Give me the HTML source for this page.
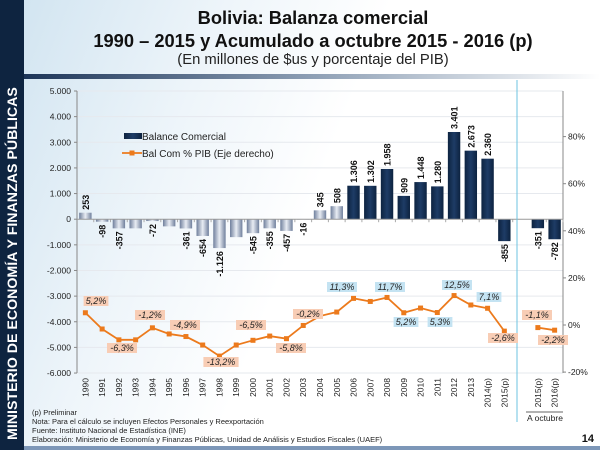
<!DOCTYPE html>
<html><head><meta charset="utf-8"><style>
html,body{margin:0;padding:0;background:#fff}
svg{display:block;font-family:"Liberation Sans",Arial,sans-serif}
</style></head><body>
<svg id="s" width="600" height="450" viewBox="0 0 600 450" xmlns="http://www.w3.org/2000/svg">
<defs>
<linearGradient id="bgl" x1="0" y1="0" x2="1" y2="0.3">
<stop offset="0" stop-color="#cfe3f0"/><stop offset="0.35" stop-color="#eef5fa"/><stop offset="0.6" stop-color="#ffffff"/></linearGradient>
<linearGradient id="sep" x1="0" y1="0" x2="1" y2="0">
<stop offset="0" stop-color="#1d3558"/><stop offset="0.5" stop-color="#8d9fb5"/><stop offset="1" stop-color="#ffffff"/></linearGradient>
<linearGradient id="lb" x1="0" y1="0" x2="1" y2="0">
<stop offset="0" stop-color="#6f7f9c"/><stop offset="0.5" stop-color="#e8ecf3"/><stop offset="1" stop-color="#6f7f9c"/></linearGradient>
<linearGradient id="db" x1="0" y1="0" x2="1" y2="0">
<stop offset="0" stop-color="#0d2340"/><stop offset="0.5" stop-color="#1e3c66"/><stop offset="1" stop-color="#0d2340"/></linearGradient>
</defs>
<rect width="600" height="450" fill="url(#bgl)"/>
<rect x="0" y="0" width="24" height="450" fill="#0e2440"/>
<rect x="24" y="446" width="576" height="4" fill="#7d97b8"/>
<text transform="translate(17,440) rotate(-90)" font-size="14.2" font-weight="bold" fill="#fff">MINISTERIO DE ECONOMÍA Y FINANZAS PÚBLICAS</text>
<text x="313" y="24" font-size="18.3" font-weight="bold" text-anchor="middle" fill="#111">Bolivia: Balanza comercial</text>
<text x="313" y="47" font-size="18.3" font-weight="bold" text-anchor="middle" fill="#111">1990 – 2015 y Acumulado a octubre 2015 - 2016 (p)</text>
<text x="313" y="64" font-size="14.8" text-anchor="middle" fill="#222">(En millones de $us y porcentaje del PIB)</text>
<rect x="24" y="74" width="576" height="5" fill="url(#sep)"/>
<g id="g"></g>
<text x="32" y="415" font-size="7.5" fill="#222">(p) Preliminar</text>
<text x="32" y="424" font-size="7.5" fill="#222">Nota: Para el cálculo se incluyen Efectos Personales y Reexportación</text>
<text x="32" y="433" font-size="7.5" fill="#222">Fuente: Instituto Nacional de Estadística (INE)</text>
<text x="32" y="442" font-size="7.5" fill="#222">Elaboración: Ministerio de Economía y Finanzas Públicas, Unidad de Análisis y Estudios Fiscales (UAEF)</text>
<text x="594" y="442" font-size="11" font-weight="bold" text-anchor="end" fill="#111">14</text>
</svg>
<script>
var g=document.getElementById('g'),h='';
var X0=77,X1=563,W=(X1-X0)/29;
function yl(v){return 219.2-v*0.02564;}
function yr(p){return 325-p*2.355;}
function cx(i){return X0+W*(i+0.5);}
for(var v=-6000;v<=5000;v+=1000){var y=yl(v);
 if(v!=0)h+='<line x1="'+X0+'" x2="'+X1+'" y1="'+y+'" y2="'+y+'" stroke="#e6e9ee" stroke-width="1"/>';
 h+='<text x="71" y="'+(y+3)+'" font-size="8.5" text-anchor="end" fill="#222">'+(v<0?'-':'')+(Math.abs(v)>=1000?Math.abs(v)/1000+'.000':'0')+'</text>';
 h+='<line x1="'+(X0-3)+'" x2="'+X0+'" y1="'+y+'" y2="'+y+'" stroke="#888"/>';}
h+='<line x1="'+X0+'" x2="'+X0+'" y1="91" y2="373" stroke="#888"/>';
h+='<line x1="'+X1+'" x2="'+X1+'" y1="91" y2="373" stroke="#888"/>';
for(var p=-20;p<=80;p+=20){var y=yr(p);h+='<line x1="'+X1+'" x2="'+(X1+3)+'" y1="'+y+'" y2="'+y+'" stroke="#888"/><text x="568" y="'+(y+3)+'" font-size="8.5" fill="#222">'+p+'%</text>';}
var cats=[],bars=[253,-98,-357,-357,-72,-280,-361,-654,-1126,-700,-545,-355,-457,-16,345,508,1306,1302,1958,909,1448,1280,3401,2673,2360,-855];
var lab=[1,1,1,0,1,0,1,1,1,0,1,1,1,1,1,1,1,1,1,1,1,1,1,1,1,1];
var pct=[5.2,-1.7,-6.3,-6.3,-1.2,-3.8,-4.9,-8.5,-13.2,-8.5,-6.5,-4.7,-5.8,-0.2,3.8,5.5,11.3,10,11.7,5.2,7.2,5.3,12.5,8.5,7.1,-2.6];
for(var i=0;i<26;i++)cats.push(i<24?String(1990+i):(1990+i)+'(p)');
function fmt(v){var a=Math.abs(v),s=a>=1000?Math.floor(a/1000)+'.'+String(a%1000).padStart(3,'0'):String(a);return (v<0?'-':'')+s;}
var idx=[],vals=[],ps=[],lb=[];
for(i=0;i<26;i++){idx.push(i);vals.push(bars[i]);ps.push(pct[i]);lb.push(lab[i]);}
idx.push(27,28);vals.push(-351,-782);ps.push(-1.1,-2.2);lb.push(1,1);cats.push('2015(p)','2016(p)');
var y0=yl(0);
for(var k=0;k<idx.length;k++){var x=cx(idx[k]),v=vals[k],y=yl(v),dark=k>=16;
 h+='<rect x="'+(x-6.2)+'" y="'+Math.min(y,y0)+'" width="12.4" height="'+Math.abs(y-y0)+'" fill="url(#'+(dark?'db':'lb')+')"/>';
 if(lb[k]){ if(v>0)h+='<text transform="translate('+(x+3.5)+','+(y-3)+') rotate(-90)" font-size="9" font-weight="bold" fill="#111">'+fmt(v)+'</text>';
  else h+='<text transform="translate('+(x+3.5)+','+(y+3)+') rotate(-90)" font-size="9" font-weight="bold" text-anchor="end" fill="#111">'+fmt(v)+'</text>';}
 h+='<text transform="translate('+(x+3)+',378) rotate(-90)" font-size="8.5" text-anchor="end" fill="#222">'+cats[k]+'</text>';
 h+='<line x1="'+(x+W/2)+'" x2="'+(x+W/2)+'" y1="'+y0+'" y2="'+(y0+3)+'" stroke="#aaa"/>';
}
h+='<line x1="'+X0+'" x2="'+X1+'" y1="'+y0+'" y2="'+y0+'" stroke="#999"/>';
h+='<line x1="517" x2="517" y1="80" y2="422" stroke="#6cc3e0" stroke-width="1"/>';
h+='<line x1="526" x2="563" y1="412" y2="412" stroke="#333" stroke-width="0.8"/>';
h+='<text x="545" y="421" font-size="8.5" text-anchor="middle" fill="#222">A octubre</text>';
function pl(a,b){var d='';for(var k=a;k<b;k++)d+=(k==a?'M':'L')+cx(idx[k])+','+yr(ps[k]);return '<path d="'+d+'" fill="none" stroke="#ec7a1c" stroke-width="1.8"/>';}
h+=pl(0,26)+pl(26,28);
for(k=0;k<28;k++)h+='<rect x="'+(cx(idx[k])-2.5)+'" y="'+(yr(ps[k])-2.5)+'" width="5" height="5" fill="#ec7a1c"/>';
var cl=[[96,303,'5,2%',0],[122,350,'-6,3%',0],[150,317,'-1,2%',0],[185,327,'-4,9%',0],[221,364,'-13,2%',0],[251,327,'-6,5%',0],[291,350,'-5,8%',0],[308,316,'-0,2%',0],[342,289,'11,3%',1],[390,289,'11,7%',1],[406,324,'5,2%',1],[440,324,'5,3%',1],[457,287,'12,5%',1],[489,299,'7,1%',1],[503,340,'-2,6%',0],[537,317,'-1,1%',0],[553,342,'-2,2%',0]];
cl.forEach(function(c){var w=c[2].length*5.2+4;h+='<rect x="'+(c[0]-w/2)+'" y="'+(c[1]-7)+'" width="'+w+'" height="10" fill="'+(c[3]?'#c4e3f2':'#f8cdb5')+'"/><text x="'+c[0]+'" y="'+(c[1]+1)+'" font-size="9" font-style="italic" text-anchor="middle" fill="#222">'+c[2]+'</text>';});
h+='<rect x="124" y="133" width="18" height="6" fill="url(#db)"/><text x="142" y="140" font-size="10" fill="#222">Balance Comercial</text>';
h+='<line x1="122" x2="142" y1="153" y2="153" stroke="#ec7a1c" stroke-width="1.8"/><rect x="129.5" y="150.5" width="5" height="5" fill="#ec7a1c"/><text x="142" y="157" font-size="10" fill="#222">Bal Com % PIB (Eje derecho)</text>';
g.innerHTML=h;
</script>
</body></html>
